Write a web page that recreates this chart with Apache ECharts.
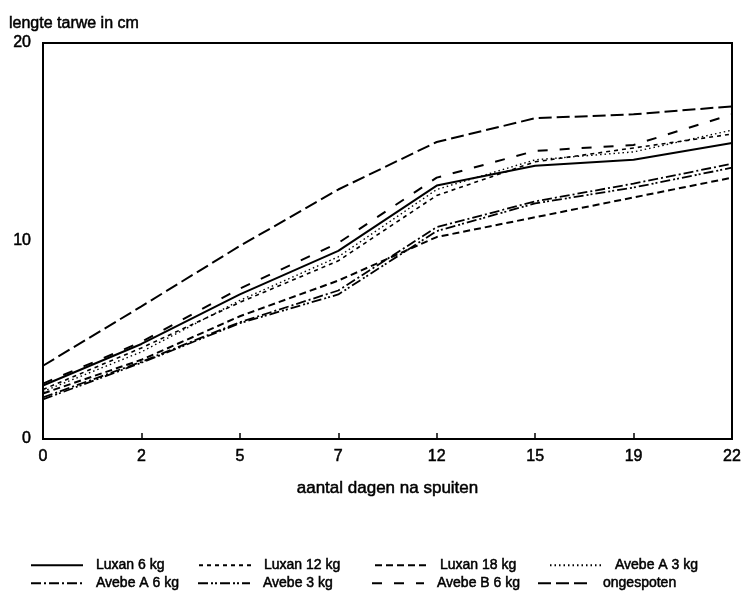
<!DOCTYPE html>
<html>
<head>
<meta charset="utf-8">
<script src="https://cdn.jsdelivr.net/npm/echarts@6/dist/echarts.min.js"></script>
<style>html,body{margin:0;padding:0;background:#fff;}#c{width:742px;height:598px;}</style>
</head>
<body>
<div id="c"></div>
<script>
const categories = ['0', '2', '5', '7', '12', '15', '19', '22'];
const yTicks = [0, 10, 20];
const luxan6   = [2.7, 4.8, 7.3, 9.5, 12.8, 13.8, 14.1, 14.95];
const luxan12  = [2.5, 4.6, 6.9, 9.0, 12.3, 14.0, 14.7, 15.4];
const luxan18  = [2.3, 4.0, 6.2, 8.0, 10.2, 11.2, 12.2, 13.2];
const avebeA3  = [2.4, 4.4, 7.0, 9.2, 12.6, 14.1, 14.5, 15.6];
const avebeA6  = [2.1, 3.9, 5.9, 7.5, 10.7, 12.0, 12.9, 13.9];
const avebe3   = [2.0, 3.85, 5.85, 7.3, 10.5, 11.9, 12.7, 13.7];
const avebeB6  = [2.8, 4.9, 7.6, 9.9, 13.2, 14.55, 14.85, 16.4];
const ongespoten = [3.7, 6.7, 9.75, 12.6, 15.0, 16.2, 16.4, 16.8];
const seriesNames = ['Luxan 6 kg', 'Luxan 12 kg', 'Luxan 18 kg', 'Avebe A 3 kg',
                     'Avebe A 6 kg', 'Avebe 3 kg', 'Avebe B 6 kg', 'ongespoten'];
const seriesData = [luxan6, luxan12, luxan18, avebeA3, avebeA6, avebe3, avebeB6, ongespoten];

const FONT = 'Liberation Sans';
const dashes = ['solid', [4, 4], [7, 4], [1.5, 3], [10, 3, 2, 3], [10, 3, 2, 2, 2, 3], [10, 12], [13, 5]];
const widths = [2, 1.6, 2, 1.4, 1.8, 1.8, 2, 2];
const txtBold = {textBorderColor: '#000', textBorderWidth: 0.5};

const legendPos = [
  {left: 30, top: 558}, {left: 198, top: 558}, {left: 374, top: 558}, {left: 549, top: 558},
  {left: 30, top: 576}, {left: 197, top: 576}, {left: 371, top: 576}, {left: 537, top: 576}
];

const chart = echarts.init(document.getElementById('c'), null, {renderer: 'canvas'});
chart.setOption({
  animation: false,
  backgroundColor: '#fff',
  title: {
    text: 'lengte tarwe in cm', left: 4, top: 11,
    textStyle: Object.assign({fontFamily: FONT, fontSize: 16, fontWeight: 'normal', color: '#000'}, txtBold)
  },
  grid: {left: 43, right: 10, top: 43, bottom: 159, show: true, borderColor: '#000', borderWidth: 2,
         outerBoundsMode: 'none', containLabel: false},
  legend: legendPos.map((p, i) => ({
    data: [seriesNames[i]], left: p.left, top: p.top,
    itemWidth: 52, itemHeight: 10, itemGap: 10,
    itemStyle: {opacity: 0},
    textStyle: Object.assign({fontFamily: FONT, fontSize: 14, color: '#000', padding: [0, 0, 0, 8]}, txtBold),
    padding: 0
  })),
  xAxis: {
    type: 'category', data: categories, boundaryGap: false,
    name: 'aantal dagen na spuiten', nameLocation: 'middle', nameGap: 41,
    nameTextStyle: Object.assign({fontFamily: FONT, fontSize: 17, color: '#000'}, txtBold),
    axisLine: {lineStyle: {color: '#000', width: 2}},
    axisTick: {inside: true, length: 6, lineStyle: {color: '#000', width: 1.5}},
    axisLabel: Object.assign({fontFamily: FONT, fontSize: 16, color: '#000', margin: 10}, txtBold),
    splitLine: {show: false}
  },
  yAxis: {
    type: 'value', min: yTicks[0], max: yTicks[yTicks.length - 1], interval: 10,
    axisLine: {show: true, lineStyle: {color: '#000', width: 2}},
    axisTick: {show: false},
    axisLabel: Object.assign({fontFamily: FONT, fontSize: 16, color: '#000', margin: 12}, txtBold),
    splitLine: {show: false}
  },
  series: seriesData.map((d, i) => ({
    name: seriesNames[i], type: 'line', data: d, symbol: 'none',
    lineStyle: {color: '#000', width: widths[i], type: dashes[i]},
    itemStyle: {color: '#000'}
  }))
});
</script>
</body>
</html>
